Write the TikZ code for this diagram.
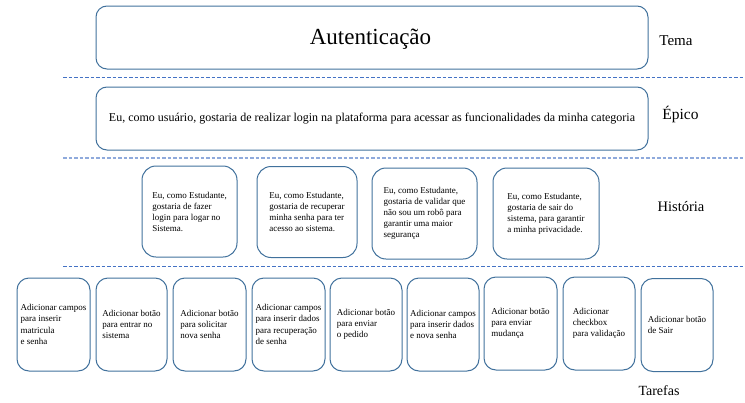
\documentclass[tikz,border=0pt]{standalone}
\usepackage{fontspec}
\setmainfont{Liberation Serif}
\definecolor{boxblue}{HTML}{41719C}
\definecolor{dashblue}{HTML}{4472C4}
\definecolor{lightdash}{HTML}{8FAADC}
\begin{document}
\begin{tikzpicture}[x=1pt,y=-1pt,
  bigbox/.style={draw=boxblue, line width=1pt, rounded corners=11pt, inner sep=0pt},
  storybox/.style={draw=boxblue, line width=1pt, rounded corners=14pt, inner sep=0pt, minimum height=91pt,
    align=left, font=\fontsize{9}{11}\selectfont},
  taskbox/.style={draw=boxblue, line width=1pt, rounded corners=12pt, inner sep=0pt, minimum width=72pt, minimum height=93pt,
    align=left, font=\fontsize{9}{11.3}\selectfont},
  levellabel/.style={inner sep=0pt},
  sepline/.style={draw=dashblue, line width=1pt, dash pattern=on 3.5pt off 2pt},
  seplinelight/.style={draw=lightdash, line width=1.6pt, dash pattern=on 3.5pt off 2pt}]
\useasboundingbox (0,0) rectangle (745,402);

% Tema
\node[bigbox, minimum width=552pt, minimum height=63pt] (tema) at (372,37.5) {};
\node[inner sep=0pt, font=\fontsize{23}{26}\selectfont] (tematxt) at (370.5,39) {Autenticação};
\node[levellabel, font=\fontsize{15}{18}\selectfont] (temalbl) at (676,41) {Tema};

% Epico
\node[bigbox, minimum width=552pt, minimum height=63pt, font=\fontsize{12}{14}\selectfont] (epico) at (372,118.5)
  {Eu, como usuário, gostaria de realizar login na plataforma para acessar as funcionalidades da minha categoria};
\node[levellabel, font=\fontsize{15.5}{18}\selectfont] (epicolbl) at (680.5,114) {Épico};

% Historia
\node[storybox, minimum width=95pt] (h1) at (189.5,211.5)
  {Eu, como Estudante,\\gostaria de fazer\\login para logar no\\Sistema.};
\node[storybox, minimum width=100pt] (h2) at (307,212)
  {Eu, como Estudante,\\gostaria de recuperar\\minha senha para ter\\acesso ao sistema.};
\node[storybox, minimum width=105pt] (h3) at (424.5,213.5)
  {Eu, como Estudante,\\gostaria de validar que\\não sou um robô para\\garantir uma maior\\segurança};
\node[storybox, minimum width=106pt] (h4) at (546,213.5)
  {Eu, como Estudante,\\gostaria de sair do\\sistema, para garantir\\a minha privacidade.};
\node[levellabel, font=\fontsize{14.5}{17}\selectfont] (histlbl) at (681,207) {História};

% Tarefas
\node[taskbox, minimum width=73pt] (t1) at (53.5,324.5) {Adicionar campos\\para inserir\\matricula\\e senha};
\node[taskbox, minimum width=71pt] (t2) at (131.5,324.5) {Adicionar botão\\para entrar no\\sistema};
\node[taskbox, minimum width=73pt] (t3) at (209.5,324.5) {Adicionar botão\\para solicitar\\nova senha};
\node[taskbox, minimum width=73pt] (t4) at (288.5,324.5) {Adicionar campos\\para inserir dados\\para recuperação\\de senha};
\node[taskbox] (t5) at (366,324.5) {Adicionar botão\\para enviar\\o pedido};
\node[taskbox] (t6) at (443,324.5) {Adicionar campos\\para inserir dados\\e nova senha};
\node[taskbox, minimum width=73pt] (t7) at (520.5,323.5) {Adicionar botão\\para enviar\\mudança};
\node[taskbox] (t8) at (599,323.5) {Adicionar\\checkbox\\para validação};
\node[taskbox] (t9) at (677,325) {Adicionar botão\\de Sair};
\node[levellabel, font=\fontsize{14}{17}\selectfont] (tarlbl) at (659,391) {Tarefas};

% Separators
\coordinate (s1a) at (63,77);  \coordinate (s1b) at (745,77);
\coordinate (s2a) at (63,158); \coordinate (s2b) at (745,158);
\coordinate (s3a) at (63,266); \coordinate (s3b) at (745,266);
\draw[sepline] (s1a) -- (s1b);
\draw[seplinelight] (s2a) -- (s2b);
\draw[sepline] (s3a) -- (s3b);
\end{tikzpicture}
\end{document}
